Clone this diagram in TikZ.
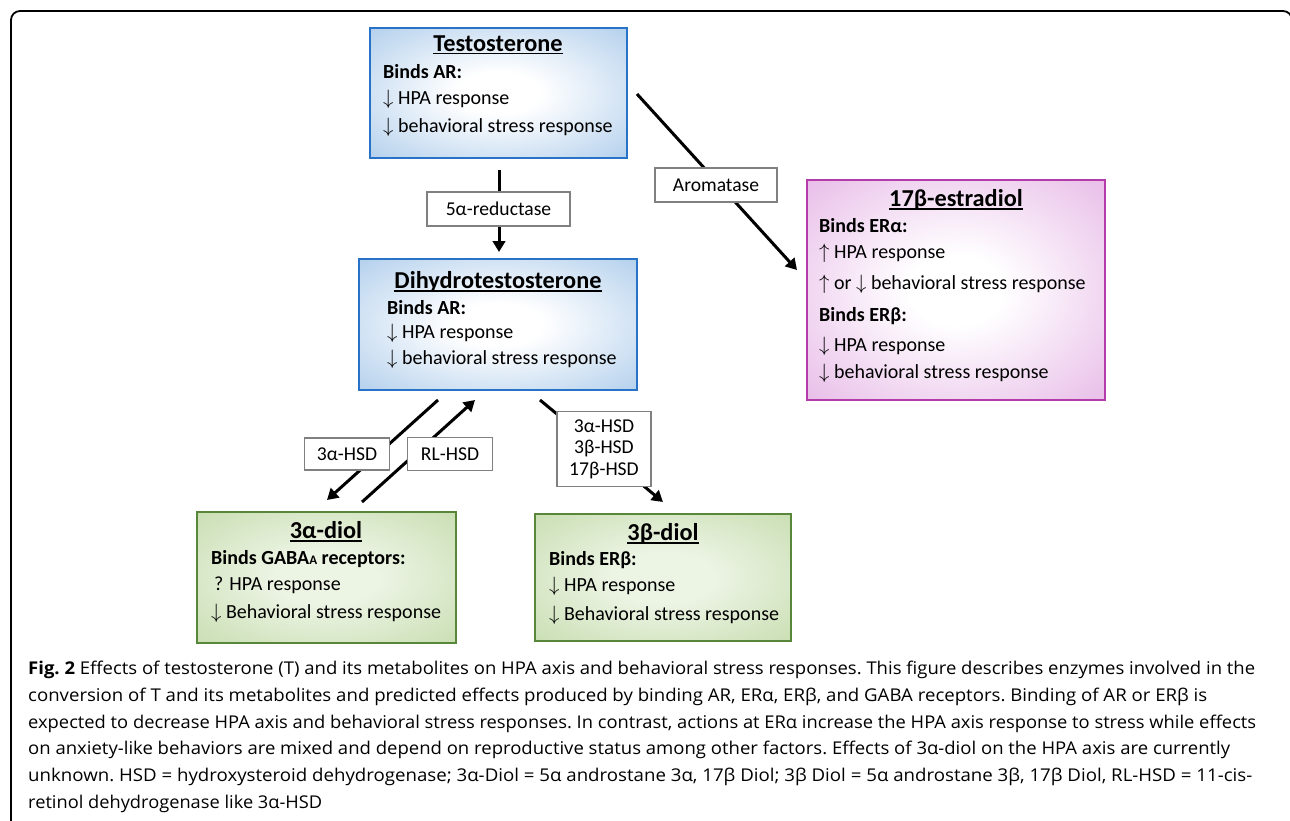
\documentclass[tikz,border=0pt]{standalone}
\usepackage{fontspec}
\usepackage{graphicx}
\setmainfont{Carlito}
\newfontfamily\capfont{Open Sans}
\usetikzlibrary{arrows.meta}
\definecolor{bluebd}{RGB}{40,115,200}
\definecolor{blueout}{RGB}{146,187,228}
\definecolor{pinkbd}{RGB}{180,60,170}
\definecolor{pinkout}{RGB}{222,160,222}
\definecolor{greenbd}{RGB}{88,135,58}
\definecolor{greenout}{RGB}{185,212,155}
\definecolor{greenin}{RGB}{236,244,228}
\definecolor{labbd}{RGB}{128,128,128}
\pgfdeclareradialshading{blueshade}{\pgfpoint{0bp}{0bp}}{color(0bp)=(white); color(8bp)=(white); color(48bp)=(blueout); color(72bp)=(blueout)}
\pgfdeclareradialshading{pinkshade}{\pgfpoint{0bp}{0bp}}{color(0bp)=(white); color(8bp)=(white); color(48bp)=(pinkout); color(72bp)=(pinkout)}
\pgfdeclareradialshading{greenshade}{\pgfpoint{0bp}{0bp}}{color(0bp)=(greenin); color(10bp)=(greenin); color(48bp)=(greenout); color(72bp)=(greenout)}
\newcommand{\ttl}[1]{\setbox0\hbox{#1}\rlap{\rule[-3.2pt]{\wd0}{1.7pt}}\box0}
\newcommand{\dn}{$\downarrow$}
\newcommand{\up}{$\uparrow$}
\newsavebox\capbox
\newcommand{\capline}[2]{\sbox\capbox{#2}\pgfmathsetmacro\capsc{#1/\the\wd\capbox}\scalebox{\capsc}[1]{\usebox\capbox}}
\tikzset{
  box/.style={draw, line width=2.2pt, inner sep=0pt},
  bluebox/.style={box, draw=bluebd, shading=blueshade},
  pinkbox/.style={box, draw=pinkbd, shading=pinkshade},
  greenbox/.style={box, draw=greenbd, shading=greenshade},
  ttlt/.style={inner sep=0pt, font=\fontsize{24.3}{26}\selectfont\bfseries},
  txt/.style={anchor=west, inner sep=0pt, font=\fontsize{20}{22}\selectfont},
  btxt/.style={txt, font=\fontsize{20}{22}\selectfont\bfseries},
  lab/.style={draw=labbd, line width=1.3pt, fill=white, inner sep=0pt, align=center, font=\fontsize{19.6}{21.5}\selectfont},
  conn/.style={line width=3pt, -{Triangle[length=11pt,width=12.5pt]}},
  capl/.style={anchor=west, inner sep=0pt, font=\capfont\frenchspacing\fontsize{17.6}{20}\selectfont}
}
\begin{document}
\begin{tikzpicture}[x=1pt,y=-1pt]
\useasboundingbox (0,0) rectangle (1290,820);
% outer frame
\draw[line width=1.8pt, rounded corners=9pt] (11,830) -- (11,11) -- (1292,11) -- (1292,40);

% boxes
\node[bluebox, minimum width=257, minimum height=130] (T) at (498.5,93) {};
\node[bluebox, minimum width=278, minimum height=131] (DHT) at (498,324.5) {};
\node[pinkbox, minimum width=298, minimum height=220] (E2) at (956,290) {};
\node[greenbox, minimum width=259, minimum height=131] (AD) at (326.5,577.5) {};
\node[greenbox, minimum width=256, minimum height=127] (BD) at (663,577.5) {};

% Testosterone text
\node[ttlt] (Tt) at (498,45) {\ttl{Testosterone}};
\node[btxt] (T1) at (383,72) {Binds AR:};
\node[txt] (T2) at (383,99) {\dn\ HPA response};
\node[txt] (T3) at (383,127) {\dn\ behavioral stress response};

% DHT text
\node[ttlt] (Dt) at (498,282) {\ttl{Dihydrotestosterone}};
\node[btxt] (D1) at (387,308) {Binds AR:};
\node[txt] (D2) at (387,333) {\dn\ HPA response};
\node[txt] (D3) at (387,359) {\dn\ behavioral stress response};

% Estradiol text
\node[ttlt] (Et) at (956,200) {\ttl{17β-estradiol}};
\node[btxt] (E1) at (819,226) {Binds ERα:};
\node[txt] (E2a) at (819,253) {\up\ HPA response};
\node[txt] (E3) at (819,284) {\up\ or \dn\ behavioral stress response};
\node[btxt] (E4) at (819,316) {Binds ERβ:};
\node[txt] (E5) at (819,346) {\dn\ HPA response};
\node[txt] (E6) at (819,373) {\dn\ behavioral stress response};

% 3a-diol text
\node[ttlt] (At) at (326,532) {\ttl{3α-diol}};
\node[btxt] (A1) at (211,559) {Binds GABA{\fontsize{13}{13}\selectfont A} receptors:};
\node[txt] (A2) at (214,585) {? HPA response};
\node[txt] (A3) at (211,613) {\dn\ Behavioral stress response};

% 3b-diol text
\node[ttlt] (Bt) at (663,534) {\ttl{3β-diol}};
\node[btxt] (B1) at (549,560) {Binds ERβ:};
\node[txt] (B2) at (549,586) {\dn\ HPA response};
\node[txt] (B3) at (549,615) {\dn\ Behavioral stress response};

% connector end points
\coordinate (tdS) at (499,170);
\coordinate (tdE) at (499,252);
\coordinate (arS) at (637,94);
\coordinate (arE) at (797,270);
\coordinate (haS) at (438,400);
\coordinate (haE) at (327,500);
\coordinate (rlS) at (362,502);
\coordinate (rlE) at (475,400);
\coordinate (hbS) at (540,400);
\coordinate (hbE) at (663,502);

\draw[conn] (tdS) -- (tdE);
\draw[conn] (arS) -- (arE);
\draw[conn] (haS) -- (haE);
\draw[conn] (rlS) -- (rlE);
\draw[conn] (hbS) -- (hbE);

% enzyme labels
\node[lab, minimum width=143, minimum height=34] (L5a) at (498.5,209) {5α-reductase};
\node[lab, minimum width=122, minimum height=34] (Lar) at (716,185) {Aromatase};
\node[lab, minimum width=85, minimum height=32] (Lha) at (347,454) {3α-HSD};
\node[lab, minimum width=85, minimum height=33] (Lrl) at (450,454) {RL-HSD};
\node[lab, minimum width=94, minimum height=75] (Lhb) at (604,449) {3α-HSD\\3β-HSD\\17β-HSD};

% caption
\node[capl] (C1) at (28,670) {\capline{1227}{\textbf{Fig. 2} Effects of testosterone (T) and its metabolites on HPA axis and behavioral stress responses. This figure describes enzymes involved in the}};
\node[capl] (C2) at (28,697) {\capline{1179}{conversion of T and its metabolites and predicted effects produced by binding AR, ERα, ERβ, and GABA receptors. Binding of AR or ERβ is}};
\node[capl] (C3) at (28,724) {\capline{1228}{expected to decrease HPA axis and behavioral stress responses. In contrast, actions at ERα increase the HPA axis response to stress while effects}};
\node[capl] (C4) at (28,750) {\capline{1202}{on anxiety-like behaviors are mixed and depend on reproductive status among other factors. Effects of 3α-diol on the HPA axis are currently}};
\node[capl] (C5) at (28,777) {\capline{1224}{unknown. HSD = hydroxysteroid dehydrogenase; 3α-Diol = 5α androstane 3α, 17β Diol; 3β Diol = 5α androstane 3β, 17β Diol, RL-HSD = 11-cis-}};
\node[capl] (C6) at (28,804) {\capline{294}{retinol dehydrogenase like 3α-HSD}};
\end{tikzpicture}
\end{document}
